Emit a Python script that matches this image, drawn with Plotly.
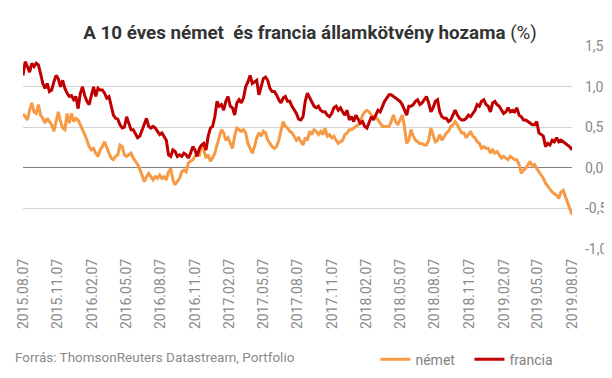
import pandas as pd
import plotly.graph_objects as go

title_text = "<b>A 10 éves német\u00a0 és francia államkötvény hozama</b> (%)"
source_text = "Forrás: ThomsonReuters Datastream, Portfolio"
series_names = ["német", "francia"]
start_date = "2015-08-07"
end_date = "2019-08-07"

x_tick_labels = ["2015.08.07", "2015.11.07", "2016.02.07", "2016.05.07", "2016.08.07",
                 "2016.11.07", "2017.02.07", "2017.05.07", "2017.08.07", "2017.11.07",
                 "2018.02.07", "2018.05.07", "2018.08.07", "2018.11.07", "2019.02.07",
                 "2019.05.07", "2019.08.07"]
y_tick_vals = [-1.0, -0.5, 0.0, 0.5, 1.0, 1.5]
y_tick_labels = ["-1,0", "-0,5", "0,0", "0,5", "1,0", "1,5"]

francia = [
    1.14, 1.31, 1.25, 1.18, 1.29, 1.25, 1.29, 1.27, 1.16, 1.04, 0.98, 1.04, 0.94, 0.96, 1.06, 1.14, 1.10, 1.00, 1.08, 0.98,
    0.92, 0.88, 0.89, 0.84, 0.88, 0.73, 0.92, 1.00, 0.89, 0.82, 0.78, 0.88, 1.00, 0.88, 0.98, 0.96, 0.96, 0.92, 0.86, 0.88,
    0.78, 0.65, 0.61, 0.60, 0.53, 0.49, 0.50, 0.63, 0.55, 0.47,
    0.47, 0.41, 0.37, 0.39, 0.47, 0.53, 0.61, 0.51, 0.49, 0.51, 0.49, 0.45, 0.41, 0.43, 0.39, 0.34, 0.16, 0.14, 0.22, 0.20,
    0.14, 0.16, 0.14, 0.18, 0.16, 0.12, 0.18, 0.26, 0.22, 0.14, 0.24, 0.28, 0.30, 0.22, 0.39, 0.49, 0.51, 0.63, 0.82, 0.76,
    0.78, 0.71, 0.82, 0.88, 0.76, 0.74, 0.65, 0.80, 0.84,
    0.80, 0.86, 1.00, 1.06, 1.14, 1.04, 1.06, 1.08, 0.90, 1.00, 1.10, 1.12, 1.08, 0.98, 0.94, 0.94, 0.90, 0.84, 0.80, 0.86,
    0.88, 0.82, 0.82, 0.76, 0.71, 0.67, 0.60, 0.59, 0.63, 0.82, 0.92, 0.86, 0.80, 0.76, 0.74, 0.76, 0.71, 0.69, 0.69, 0.65,
    0.63, 0.67, 0.74, 0.76, 0.71, 0.74, 0.69, 0.65, 0.71, 0.59,
    0.63, 0.57, 0.65, 0.59, 0.55, 0.57, 0.51, 0.49, 0.55, 0.63, 0.59, 0.65, 0.71, 0.69, 0.76, 0.82, 0.86, 0.90, 0.90, 0.88,
    0.86, 0.84, 0.82, 0.78, 0.71, 0.65, 0.76, 0.76, 0.78, 0.82, 0.84, 0.78, 0.80, 0.84, 0.88, 0.80, 0.69, 0.74, 0.82, 0.84,
    0.69, 0.63, 0.61, 0.61, 0.57, 0.59, 0.65, 0.71, 0.65, 0.61, 0.59,
    0.59, 0.61, 0.65, 0.63, 0.67, 0.71, 0.78, 0.76, 0.82, 0.84, 0.78, 0.76, 0.69, 0.80, 0.82, 0.78, 0.76, 0.71, 0.67, 0.69,
    0.74, 0.69, 0.71, 0.69, 0.74, 0.65, 0.63, 0.59, 0.59, 0.57, 0.55, 0.53, 0.53, 0.57, 0.43, 0.41, 0.39, 0.26, 0.30, 0.28,
    0.34, 0.32, 0.37, 0.32, 0.34, 0.32, 0.30, 0.28, 0.26, 0.22,
]

nemet = [
    0.67, 0.63, 0.59, 0.71, 0.80, 0.69, 0.67, 0.78, 0.65, 0.61, 0.55, 0.61, 0.57, 0.53, 0.45, 0.59, 0.69, 0.57, 0.49, 0.47,
    0.67, 0.55, 0.67, 0.57, 0.61, 0.59, 0.53, 0.49, 0.41, 0.34, 0.26, 0.22, 0.24, 0.18, 0.14, 0.22, 0.26, 0.32, 0.24, 0.18,
    0.12, 0.10, 0.14, 0.16, 0.28, 0.26, 0.16, 0.14, 0.16, 0.18,
    0.12, 0.08, 0.04, -0.02, -0.11, -0.17, -0.11, -0.07, -0.11, -0.15, -0.11, -0.13, -0.09, -0.13, -0.11, -0.15, -0.05, -0.01,
    -0.15, -0.21, -0.17, -0.13, -0.05, -0.03, -0.05, 0.06, 0.08, 0.10, 0.14, 0.18, 0.16, 0.28, 0.22, 0.12, 0.16, 0.08, 0.12,
    0.18, 0.28, 0.39, 0.47, 0.43, 0.34, 0.37, 0.30, 0.24, 0.39, 0.49, 0.47,
    0.45, 0.47, 0.43, 0.30, 0.24, 0.18, 0.26, 0.37, 0.43, 0.39, 0.45, 0.43, 0.34, 0.30, 0.26, 0.24, 0.26, 0.34, 0.47, 0.57,
    0.51, 0.49, 0.45, 0.43, 0.39, 0.34, 0.37, 0.32, 0.28, 0.37, 0.34, 0.45, 0.41, 0.47, 0.45, 0.41, 0.45, 0.41, 0.49, 0.39,
    0.41, 0.37, 0.39, 0.34, 0.30, 0.32, 0.34, 0.41, 0.43, 0.47,
    0.47, 0.49, 0.51, 0.53, 0.57, 0.65, 0.69, 0.71, 0.69, 0.65, 0.63, 0.63, 0.59, 0.55, 0.51, 0.51, 0.51, 0.51, 0.57, 0.65,
    0.57, 0.53, 0.59, 0.65, 0.51, 0.30, 0.34, 0.47, 0.39, 0.34, 0.32, 0.30, 0.30, 0.28, 0.28, 0.34, 0.49, 0.39, 0.32, 0.34,
    0.41, 0.34, 0.39, 0.43, 0.45, 0.51, 0.53, 0.57, 0.53, 0.47, 0.43,
    0.43, 0.37, 0.41, 0.45, 0.39, 0.37, 0.32, 0.30, 0.24, 0.26, 0.24, 0.24, 0.18, 0.22, 0.18, 0.20, 0.16, 0.12, 0.14, 0.12,
    0.10, 0.14, 0.12, 0.10, 0.10, 0.04, -0.07, -0.03, -0.01, 0.04, 0.08, 0.02, 0.04, -0.01, -0.05, -0.09, -0.13, -0.19,
    -0.23, -0.26, -0.30, -0.32, -0.34, -0.38, -0.30, -0.28, -0.36, -0.44, -0.50, -0.58,
]

colors = {"német": "#F79A45", "francia": "#C00000"}

x_nemet = pd.date_range(start_date, end_date, periods=len(nemet))
x_francia = pd.date_range(start_date, end_date, periods=len(francia))
tick_dates = [pd.Timestamp(s.replace(".", "-")) for s in x_tick_labels]

fig = go.Figure()
fig.add_trace(go.Scatter(x=x_nemet, y=nemet, mode="lines", name=series_names[0],
                         line=dict(color=colors["német"], width=3)))
fig.add_trace(go.Scatter(x=x_francia, y=francia, mode="lines", name=series_names[1],
                         line=dict(color=colors["francia"], width=3)))

# the page body adds an 8 px offset, so the figure is 8 px smaller and shifted
fig.update_layout(
    width=604, height=370,
    margin=dict(l=15, r=40, t=38, b=129, autoexpand=False),
    paper_bgcolor="white", plot_bgcolor="white",
    font=dict(family="Roboto", size=14, color="#7f7f7f"),
    title=dict(text=title_text, x=0.5, xref="container", y=1 - 24 / 370, yref="container",
               xanchor="center", yanchor="middle",
               font=dict(family="Roboto", size=18.8, color="#333333")),
    showlegend=True,
    legend=dict(orientation="h", x=0.642, y=-0.545, xanchor="left", yanchor="middle",
                font=dict(family="Roboto", size=14, color="#7f7f7f"),
                entrywidth=49, entrywidthmode="pixels", itemwidth=30,
                bgcolor="rgba(0,0,0,0)", tracegroupgap=0),
    annotations=[dict(text=source_text, xref="paper", yref="paper", x=-0.019, y=-0.532,
                      xanchor="left", yanchor="middle", showarrow=False,
                      font=dict(family="Roboto", size=13.5, color="#8a8a8a"))],
)

fig.update_xaxes(
    range=[pd.Timestamp(start_date), pd.Timestamp(end_date)],
    tickvals=tick_dates, ticktext=x_tick_labels, tickangle=-90,
    showgrid=False, zeroline=False, showline=False, ticks="",
    tickfont=dict(family="Roboto", size=14, color="#8a8a8a"),
    ticklabelstandoff=6, automargin=False,
)
fig.update_yaxes(
    range=[-1.003, 1.503], side="right",
    tickvals=y_tick_vals, ticktext=y_tick_labels,
    showgrid=True, gridcolor="#d4d4d4", gridwidth=1,
    zeroline=True, zerolinecolor="#808080", zerolinewidth=1,
    showline=False, ticks="",
    tickfont=dict(family="Roboto", size=14, color="#8a8a8a"),
    ticklabelstandoff=12, automargin=False,
)

fig.write_html("out.html")
